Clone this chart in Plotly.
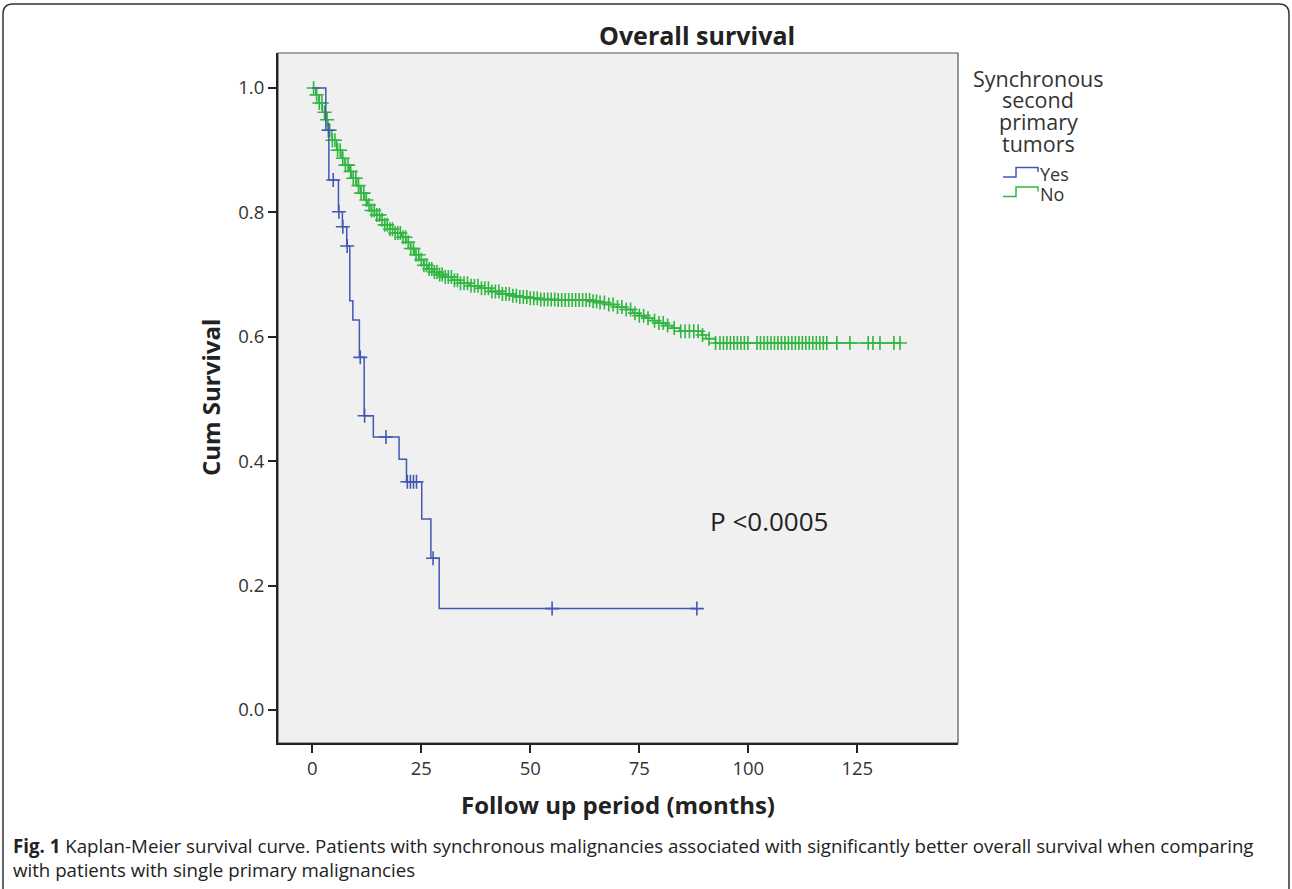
import plotly.graph_objects as go
import bisect

# ---------------- data ----------------
yes_event_times = [3.1, 3.8, 6.0, 6.9, 7.9, 8.6, 9.3, 10.8, 11.9, 14.0, 19.9, 21.6, 25.1, 27.2, 29.1]
yes_survival = [0.932, 0.852, 0.801, 0.777, 0.746, 0.658, 0.627, 0.567, 0.473, 0.439, 0.403, 0.367, 0.307, 0.244, 0.163]
yes_end = 88.2
yes_censored = [3.7, 4.8, 6.1, 7.0, 8.0, 11.0, 12.0, 16.9, 21.8, 22.5, 23.2, 23.9, 27.7, 55.0, 88.2]

no_event_times = [0.8, 1.5, 2.3, 2.9, 3.6, 4.5, 5.6, 6.6, 7.5, 8.5, 9.0, 10.2, 11.0, 12.0, 12.6,
                  13.5, 14.3, 15.5, 16.6, 17.8, 19.0, 20.5, 21.5, 22.5, 23.5, 24.5, 25.5, 26.5,
                  27.7, 29.0, 30.4, 32.0, 33.9, 36.0, 38.5, 41.0, 43.0, 45.5, 47.6, 50.0, 52.2,
                  56.0, 64.0, 66.0, 68.0, 70.0, 72.0, 73.5, 75.0, 76.5, 78.0, 79.5, 81.0, 82.5,
                  84.3, 89.3, 90.3, 92.5]
no_survival = [0.989, 0.976, 0.961, 0.949, 0.932, 0.916, 0.900, 0.887, 0.876, 0.866, 0.855, 0.843,
               0.831, 0.820, 0.812, 0.803, 0.796, 0.788, 0.780, 0.773, 0.767, 0.760, 0.752, 0.742,
               0.732, 0.724, 0.715, 0.709, 0.704, 0.700, 0.696, 0.691, 0.686, 0.682, 0.678, 0.673,
               0.669, 0.666, 0.664, 0.662, 0.660, 0.659, 0.657, 0.655, 0.652, 0.648, 0.644, 0.638,
               0.634, 0.630, 0.626, 0.622, 0.618, 0.614, 0.609, 0.603, 0.597, 0.590]
no_end = 134.8
no_censored = [0.3, 1.0, 1.6, 2.2, 2.8, 3.4, 4.0, 4.6, 5.2, 5.8, 6.4, 7.0, 7.6, 8.2, 8.8, 9.4, 10.0,
               10.6, 11.2, 11.8, 12.4, 13.0, 13.6, 14.2, 14.8, 15.4, 16.0, 16.6, 17.2, 17.8, 18.4,
               19.0, 19.6, 20.2, 20.8, 21.4, 22.0, 22.6, 23.2, 23.8, 24.4, 25.0, 25.6, 26.2, 26.8,
               27.4, 28.0, 28.6, 29.2, 29.8, 30.5, 31.2, 31.9, 32.6, 33.3, 34.0, 34.8, 35.6, 36.4,
               37.2, 38.0, 38.8, 39.6, 40.4, 41.2, 42.0, 42.8, 43.6, 44.4, 45.2, 46.0, 46.8, 47.6,
               48.4, 49.2, 50.0, 50.8, 51.6, 52.4, 53.2, 54.0, 54.8, 55.6, 56.4, 57.2, 58.0, 58.8,
               59.6, 60.4, 61.2, 62.0, 62.8, 63.6, 64.4, 65.2, 66.0, 67.0, 68.0, 69.0, 70.0, 71.0,
               72.0, 73.0, 74.0, 75.0, 76.0, 77.0, 78.5, 79.5, 80.5, 81.5, 83.0, 84.5, 85.5, 86.5,
               87.5, 88.5, 89.5, 91.0, 92.5, 93.5, 94.3, 95.1, 95.9, 96.7, 97.5, 98.3, 99.1, 99.9,
               102.0, 102.8, 103.6, 104.4, 105.2, 106.0, 106.8, 107.6, 108.4, 109.2, 110.0, 110.8,
               111.6, 112.4, 113.2, 114.0, 114.8, 115.6, 116.4, 117.2, 118.0, 120.3, 123.3, 127.5,
               128.6, 130.2, 133.4, 134.8]

x_ticks = [0, 25, 50, 75, 100, 125]
y_ticks = [0.0, 0.2, 0.4, 0.6, 0.8, 1.0]
y_tick_labels = ["0.0", "0.2", "0.4", "0.6", "0.8", "1.0"]
group_labels = ["Yes", "No"]
legend_title_lines = ["Synchronous", "second", "primary", "tumors"]

BLUE = "#4258b4"
GREEN = "#30b640"
FONT = "Open Sans"


def step_xy(times, surv, end):
    xs = [0.0] + list(times) + [end]
    ys = [1.0] + list(surv) + [surv[-1]]
    return xs, ys


def surv_at(times, surv, t):
    i = bisect.bisect_right(times, t)
    return 1.0 if i == 0 else surv[i - 1]


fig = go.Figure()
for times, surv, end, cens, color, name in [
    (no_event_times, no_survival, no_end, no_censored, GREEN, group_labels[1]),
    (yes_event_times, yes_survival, yes_end, yes_censored, BLUE, group_labels[0]),
]:
    xs, ys = step_xy(times, surv, end)
    fig.add_trace(go.Scatter(x=xs, y=ys, mode="lines", line=dict(color=color, width=1.5, shape="hv"),
                             name=name, showlegend=False))
    fig.add_trace(go.Scatter(x=cens, y=[surv_at(times, surv, t) for t in cens], mode="markers",
                             marker=dict(symbol="cross-thin", size=10, line=dict(color=color, width=1.6)),
                             showlegend=False))

# pixel -> paper helpers (plot area 278..958 x 53..743)
L, R, T, B = 278, 958, 53, 743
W, H = 1292, 889
px = lambda v: (v - L) / (R - L)
py = lambda v: (B - v) / (B - T)


def note(text, x, y, size, xanchor="center", color="#222", **kw):
    return dict(text=text, x=px(x), y=py(y), xref="paper", yref="paper", xanchor=xanchor,
                yanchor="middle", showarrow=False, font=dict(size=size, color=color, family=FONT), **kw)


ann = []
ann.append(note("<b>Overall survival</b>", 697, 35, 25))
ann.append(note("<b>Cum Survival</b>", 210, 398, 24, textangle=-90))
ann.append(note("<b>Follow up period (months)</b>", 618, 804, 24))
for i, line in enumerate(legend_title_lines):
    ann.append(note(line, 1038, 78 + 21.7 * i, 21.5, color="#333"))
for i, lab in enumerate(group_labels):
    ann.append(note(lab, 1038, 174 + 20 * i, 18, xanchor="left", color="#333"))
ann.append(dict(text="P <0.0005", x=90.7, y=0.304, xref="x", yref="y", xanchor="left", yanchor="middle",
                showarrow=False, font=dict(size=26, color="#222", family=FONT)))
ann.append(note("<b>Fig. 1</b> Kaplan-Meier survival curve. Patients with synchronous malignancies associated with significantly better overall survival when comparing",
                11, 845, 18.7, xanchor="left"))
ann.append(note("with patients with single primary malignancies", 11, 869, 18.7, xanchor="left"))

shapes = []
# plot frame (top/right)
shapes.append(dict(type="rect", xref="paper", yref="paper", x0=0, x1=1, y0=0, y1=1,
                   line=dict(color="#555", width=1.2), layer="below"))
# legend glyphs
for i, color in enumerate([BLUE, GREEN]):
    yl, yh, ye = 177 + 19.5 * i, 167.5 + 19.5 * i, 172 + 19.5 * i
    path = (f"M {px(1003)},{py(yl)} L {px(1016)},{py(yl)} L {px(1016)},{py(yh)} "
            f"L {px(1038)},{py(yh)} L {px(1038)},{py(ye)}")
    shapes.append(dict(type="path", xref="paper", yref="paper", path=path,
                       line=dict(color=color, width=1.5)))
# outer rounded frame
r = 10
x0, x1, y0, y1 = 3, 1289, 4, 900
path = (f"M {px(x0)},{py(y1)} L {px(x0)},{py(y0 + r)} Q {px(x0)},{py(y0)} {px(x0 + r)},{py(y0)} "
        f"L {px(x1 - r)},{py(y0)} Q {px(x1)},{py(y0)} {px(x1)},{py(y0 + r)} L {px(x1)},{py(y1)}")
shapes.append(dict(type="path", xref="paper", yref="paper", path=path,
                   line=dict(color="#333", width=1.5)))

x_min = -(312.3 - L) / 4.36
x_max = (R - 312.3) / 4.36
y_min = -(B - 710) / 622
y_max = 1 + (88 - T) / 622

fig.update_layout(
    width=W, height=H,
    margin=dict(l=L, r=W - R, t=T, b=H - B),
    paper_bgcolor="white", plot_bgcolor="#f0f0f0",
    annotations=ann, shapes=shapes, showlegend=False,
    font=dict(family=FONT, color="#333"),
    xaxis=dict(range=[x_min, x_max], tickvals=x_ticks, ticks="outside", ticklen=8, tickwidth=2,
               tickcolor="#222", showline=True, linecolor="#222", linewidth=2, showgrid=False,
               zeroline=False, tickfont=dict(size=18.5, color="#333", family=FONT)),
    yaxis=dict(range=[y_min, y_max], tickvals=y_ticks, ticktext=y_tick_labels, ticks="outside",
               ticklen=8, tickwidth=2, tickcolor="#222", showline=True, linecolor="#222", linewidth=2,
               showgrid=False, zeroline=False, tickfont=dict(size=18.5, color="#333", family=FONT)),
)

fig.write_html("out.html", config={"displayModeBar": False},
               post_script="document.body.style.margin='0';document.body.style.overflow='hidden';")
